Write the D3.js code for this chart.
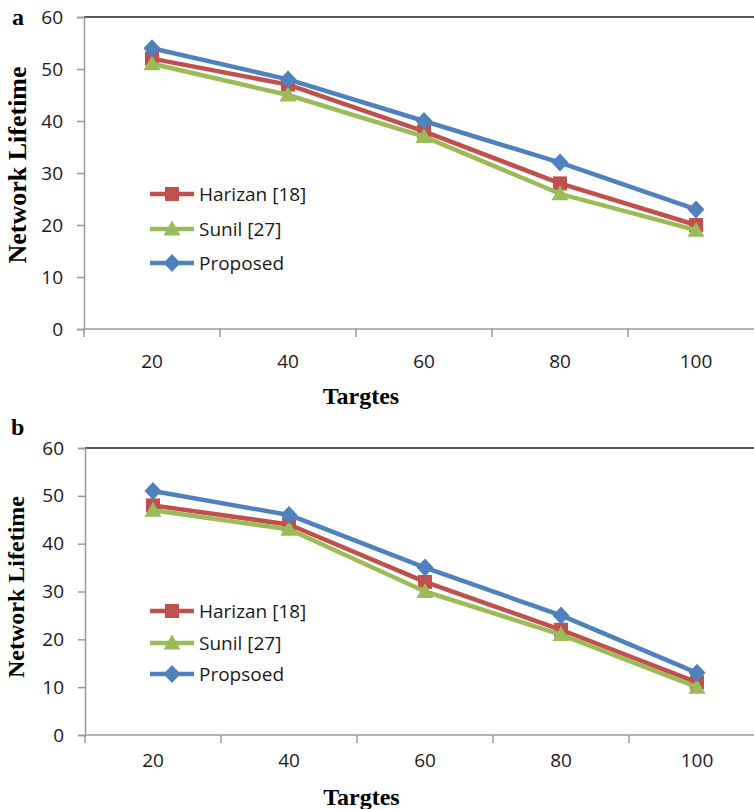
<!DOCTYPE html>
<html>
<head>
<meta charset="utf-8">
<script src="https://cdn.jsdelivr.net/npm/d3@7"></script>
<style>
  body { margin: 0; background: #fff; }
  svg { display: block; }
</style>
</head>
<body>
<div id="chart"></div>
<script>
const targets = ['20', '40', '60', '80', '100'];
const yTicks = [0, 10, 20, 30, 40, 50, 60];

// panel a
const harizanA = [52, 47, 38, 28, 20];
const sunilA = [51, 45, 37, 26, 19];
const proposedA = [54, 48, 40, 32, 23];

// panel b
const harizanB = [48, 44, 32, 22, 11];
const sunilB = [47, 43, 30, 21, 10];
const proposedB = [51, 46, 35, 25, 13];

const legendA = ['Harizan [18]', 'Sunil [27]', 'Proposed'];
const legendB = ['Harizan [18]', 'Sunil [27]', 'Propsoed'];

const COLORS = ['#C0504D', '#9BBB59', '#4F81BD'];
const MARKERS = ['square', 'triangle', 'diamond'];
const TICK_FONT = '"Open Sans", sans-serif';
const TITLE_FONT = '"Liberation Serif", "Times New Roman", serif';

function markerPath(type) {
  if (type === 'square') {
    const h = 7;
    return `M${-h},${-h}H${h}V${h}H${-h}Z`;
  }
  if (type === 'triangle') {
    return 'M0,-8.5L8.5,6.5L-8.5,6.5Z';
  }
  return 'M0,-9L8.5,0L0,9L-8.5,0Z';
}

const svg = d3.select('#chart').append('svg')
  .attr('width', 754)
  .attr('height', 809);

function drawPanel(opts) {
  const { label, series, names, left, top, bottom, labelDy, xTitleY, yTitle, legendY } = opts;
  const g = svg.append('g');

  const x = d3.scaleBand().domain(targets).range([left, left + 680]);
  const y = d3.scaleLinear().domain([0, 60]).range([bottom, top]);

  // top border
  g.append('line')
    .attr('x1', left).attr('x2', 754)
    .attr('y1', top).attr('y2', top)
    .attr('stroke', '#595959').attr('stroke-width', 2);

  // y axis
  const yAxis = g.append('g')
    .attr('transform', `translate(${left},0)`)
    .call(d3.axisLeft(y).tickValues(yTicks).tickSize(7).tickPadding(14));
  yAxis.select('.domain').attr('stroke', '#999').attr('stroke-width', 1.5);
  yAxis.selectAll('.tick line').attr('stroke', '#999').attr('stroke-width', 1.5);
  yAxis.selectAll('.tick text')
    .attr('font-family', TICK_FONT).attr('font-size', 19).attr('fill', '#1a1a1a');

  // x axis: labels at band centres, ticks at band edges
  const xAxis = g.append('g')
    .attr('transform', `translate(0,${bottom})`)
    .call(d3.axisBottom(x).tickSize(0).tickPadding(labelDy));
  xAxis.select('.domain').remove();
  xAxis.selectAll('.tick text')
    .attr('font-family', TICK_FONT).attr('font-size', 19).attr('fill', '#1a1a1a');
  g.append('line')
    .attr('x1', left).attr('x2', 754)
    .attr('y1', bottom).attr('y2', bottom)
    .attr('stroke', '#999').attr('stroke-width', 1.5);
  g.selectAll('.xedge')
    .data(targets.concat(['end']))
    .join('line')
    .attr('class', 'xedge')
    .attr('x1', (d, i) => left + i * x.step())
    .attr('x2', (d, i) => left + i * x.step())
    .attr('y1', bottom).attr('y2', bottom + 8)
    .attr('stroke', '#999').attr('stroke-width', 1.5);

  // lines + markers
  const line = d3.line()
    .x((d, i) => x(targets[i]) + x.bandwidth() / 2)
    .y((d) => y(d));

  series.forEach((vals, si) => {
    g.append('path')
      .datum(vals)
      .attr('d', line)
      .attr('fill', 'none')
      .attr('stroke', COLORS[si])
      .attr('stroke-width', 4.5)
      .attr('stroke-linejoin', 'round');
    g.selectAll(`.m${si}`)
      .data(vals)
      .join('path')
      .attr('class', `m${si}`)
      .attr('d', markerPath(MARKERS[si]))
      .attr('transform', (d, i) => `translate(${x(targets[i]) + x.bandwidth() / 2},${y(d)})`)
      .attr('fill', COLORS[si]);
  });

  // legend
  const leg = g.selectAll('.leg')
    .data(names)
    .join('g')
    .attr('class', 'leg')
    .attr('transform', (d, i) => `translate(150,${legendY[i]})`);
  leg.append('line')
    .attr('x1', 0).attr('x2', 44)
    .attr('stroke', (d, i) => COLORS[i])
    .attr('stroke-width', 4.5);
  leg.append('path')
    .attr('d', (d, i) => markerPath(MARKERS[i]))
    .attr('transform', 'translate(22,0)')
    .attr('fill', (d, i) => COLORS[i]);
  leg.append('text')
    .attr('x', 49)
    .attr('dy', '0.36em')
    .attr('font-family', TICK_FONT)
    .attr('font-size', 19)
    .attr('fill', '#1a1a1a')
    .text((d) => d);

  // titles
  g.append('text')
    .attr('x', (left + 754) / 2 - 58)
    .attr('y', xTitleY)
    .attr('text-anchor', 'middle')
    .attr('font-family', TITLE_FONT)
    .attr('font-weight', 'bold')
    .attr('font-size', 24)
    .text('Targtes');

  g.append('text')
    .attr('transform', `translate(${yTitle.x},${yTitle.y}) rotate(-90)`)
    .attr('text-anchor', 'middle')
    .attr('font-family', TITLE_FONT)
    .attr('font-weight', 'bold')
    .attr('font-size', yTitle.size)
    .text('Network Lifetime');

  g.append('text')
    .attr('x', label.x)
    .attr('y', label.y)
    .attr('font-family', TITLE_FONT)
    .attr('font-weight', 'bold')
    .attr('font-size', 24)
    .text(label.text);
}

drawPanel({
  label: { text: 'a', x: 12, y: 25 },
  series: [harizanA, sunilA, proposedA],
  names: legendA,
  left: 84, top: 17, bottom: 329,
  labelDy: 26, xTitleY: 404,
  yTitle: { x: 26, y: 165, size: 26 },
  legendY: [194, 229, 263],
});

drawPanel({
  label: { text: 'b', x: 11, y: 435 },
  series: [harizanB, sunilB, proposedB],
  names: legendB,
  left: 85, top: 448, bottom: 735,
  labelDy: 19, xTitleY: 805,
  yTitle: { x: 24, y: 587, size: 24 },
  legendY: [611, 643, 674],
});
</script>
</body>
</html>
